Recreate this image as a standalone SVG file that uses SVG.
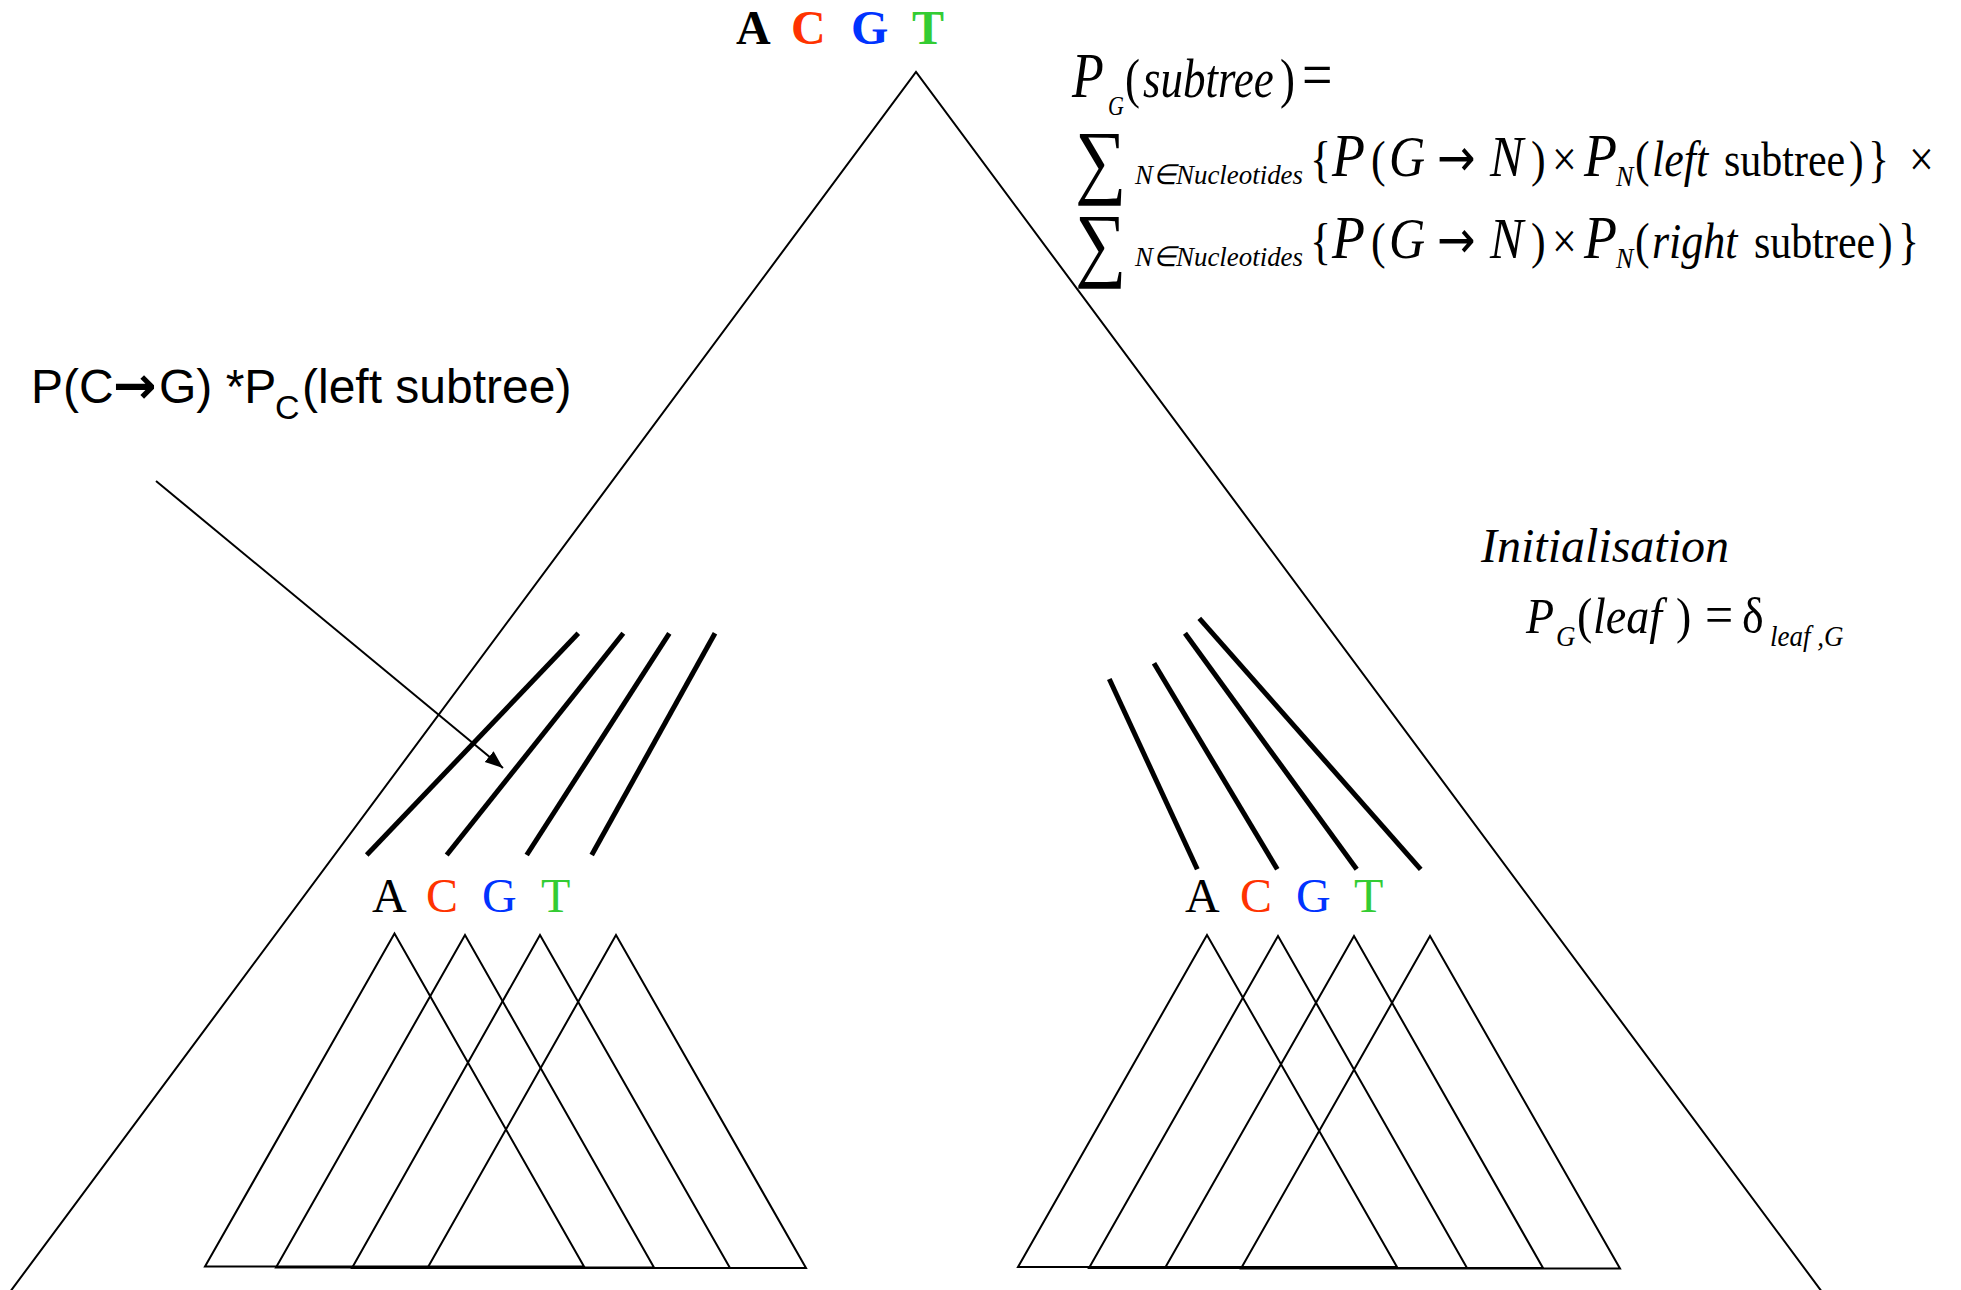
<svg xmlns="http://www.w3.org/2000/svg" width="1961" height="1290" viewBox="0 0 1961 1290">
  <style>
    .thin { fill: none; stroke: #000; stroke-width: 2; stroke-linejoin: miter; }
    .thick { fill: none; stroke: #000; stroke-width: 5; stroke-linecap: butt; }
    .serif { font-family: "Liberation Serif", "Times New Roman", serif; }
    .sans { font-family: "Liberation Sans", Arial, sans-serif; }
    .nt { font-family: "Liberation Serif", "Times New Roman", serif; font-size: 48px; }
    .a { fill: #000; }
    .c { fill: #ff3300; }
    .g { fill: #0033ff; }
    .t { fill: #33cc33; }
    .it { font-style: italic; }
    .math { font-family: "Liberation Serif", "Times New Roman", serif; font-size: 44px; fill: #000; }
    .cap { font-size: 50px; }
    .bigp { font-size: 54px; }
    .up { font-size: 42px; }
    .sub { font-size: 26px; }
    .arr { font-family: "DejaVu Sans", sans-serif; font-size: 46px; }
    .sum { font-size: 72px; font-style: normal; }
  </style>
  <defs>
    <marker id="arrowhead" markerUnits="userSpaceOnUse" markerWidth="20" markerHeight="16" refX="18" refY="7" orient="auto">
      <path d="M0,0 L18,7 L0,14 z" fill="#000"/>
    </marker>
  </defs>
  <rect width="1961" height="1290" fill="#fff"/>

  <g id="root-tree">
    <polyline class="thin" points="4,1300 916,72 1828,1300"/>
    <text class="nt" font-weight="bold" y="44"><tspan class="a" x="736">A</tspan><tspan class="c" x="791">C</tspan><tspan class="g" x="851">G</tspan><tspan class="t" x="912">T</tspan></text>
  </g>

  <g id="left-subtree">
    <text class="nt" y="912"><tspan class="a" x="372">A</tspan><tspan class="c" x="426">C</tspan><tspan class="g" x="482">G</tspan><tspan class="t" x="541">T</tspan></text>
    <polygon class="thin" points="394.5,933.5 205,1266.5 584,1266.5"/>
    <polygon class="thin" points="465,935 276,1267.5 654,1267.5"/>
    <polygon class="thin" points="540,935 352,1268 730,1268"/>
    <polygon class="thin" points="616,935 427.5,1268 806,1268"/>
  </g>

  <g id="right-subtree">
    <text class="nt" y="912"><tspan class="a" x="1185">A</tspan><tspan class="c" x="1240">C</tspan><tspan class="g" x="1296">G</tspan><tspan class="t" x="1354">T</tspan></text>
    <polygon class="thin" points="1207,935 1018,1267 1397,1267"/>
    <polygon class="thin" points="1278,936 1089,1268 1467,1268"/>
    <polygon class="thin" points="1354,936 1165,1268 1543,1268"/>
    <polygon class="thin" points="1430,936 1241,1268.5 1620,1268.5"/>
  </g>

  <g id="connectors">
    <line class="thick" x1="578.3" y1="633.3" x2="366.7" y2="855" stroke-width="6"/>
    <line class="thick" x1="623.3" y1="633.3" x2="446.7" y2="855"/>
    <line class="thick" x1="669.3" y1="633.3" x2="526.7" y2="855"/>
    <line class="thick" x1="715" y1="633.3" x2="591.7" y2="855"/>
    <line class="thick" x1="1109.3" y1="679" x2="1197.3" y2="869.3"/>
    <line class="thick" x1="1154" y1="663.3" x2="1277.3" y2="869.3"/>
    <line class="thick" x1="1185" y1="633.3" x2="1356.7" y2="869.3"/>
    <line class="thick" x1="1199.3" y1="618.3" x2="1420.7" y2="869.3" stroke-width="6"/>
    <line x1="156" y1="481" x2="503" y2="768" stroke="#000" stroke-width="2" marker-end="url(#arrowhead)"/>
  </g>

  <g id="label-left">
    <text class="sans" font-size="48" y="403" fill="#000"><tspan x="31">P(C</tspan><tspan x="113" font-family="'DejaVu Sans', sans-serif" font-weight="bold" font-size="52">→</tspan><tspan x="159">G) *P</tspan><tspan x="275" y="419" font-size="34">C</tspan><tspan x="302" y="403">(left subtree)</tspan></text>
  </g>

  <g id="formula-recursion" class="math">
    <text transform="translate(0,97) scale(1,1.2)" font-size="45"><tspan class="it" x="1072" y="0" font-size="52">P</tspan><tspan class="it" font-size="22" x="1108" y="15">G</tspan><tspan x="1125" y="0">(</tspan><tspan class="it" x="1143">subtree</tspan><tspan x="1280">)</tspan><tspan x="1302" font-size="54">=</tspan></text>
    <text class="sum" transform="translate(1075,188) scale(1,1.15)">∑</text>
    <text class="it" font-size="28" x="1135" y="184" textLength="168" lengthAdjust="spacingAndGlyphs">N∈Nucleotides</text>
    <text transform="translate(0,176) scale(1,1.15)"><tspan x="1310" y="0">{</tspan><tspan class="it bigp" x="1332">P</tspan><tspan x="1371">(</tspan><tspan class="it cap" x="1389">G</tspan><tspan class="arr" x="1437">→</tspan><tspan class="it cap" x="1490">N</tspan><tspan x="1531">)</tspan><tspan x="1552">×</tspan><tspan class="it bigp" x="1584">P</tspan><tspan class="it sub" x="1616" y="9">N</tspan><tspan x="1635" y="0">(</tspan><tspan class="it" x="1652">left</tspan><tspan class="up" x="1724">subtree</tspan><tspan x="1849">)</tspan><tspan x="1868">}</tspan><tspan x="1909">×</tspan></text>
    <text class="sum" transform="translate(1075,271) scale(1,1.15)">∑</text>
    <text class="it" font-size="28" x="1135" y="266" textLength="168" lengthAdjust="spacingAndGlyphs">N∈Nucleotides</text>
    <text transform="translate(0,258) scale(1,1.15)"><tspan x="1310" y="0">{</tspan><tspan class="it bigp" x="1332">P</tspan><tspan x="1371">(</tspan><tspan class="it cap" x="1389">G</tspan><tspan class="arr" x="1437">→</tspan><tspan class="it cap" x="1490">N</tspan><tspan x="1531">)</tspan><tspan x="1552">×</tspan><tspan class="it bigp" x="1584">P</tspan><tspan class="it sub" x="1616" y="9">N</tspan><tspan x="1635" y="0">(</tspan><tspan class="it" x="1652">right</tspan><tspan class="up" x="1754">subtree</tspan><tspan x="1878">)</tspan><tspan x="1898">}</tspan></text>
  </g>

  <g id="formula-init" class="serif">
    <text class="it" x="1481" y="562" font-size="48">Initialisation</text>
    <text font-size="46" transform="translate(0,633) scale(1,1.1)"><tspan class="it" x="1526" y="0">P</tspan><tspan class="it" font-size="27" x="1556" y="12">G</tspan><tspan x="1577" y="0">(</tspan><tspan class="it" x="1593">leaf</tspan><tspan x="1676">)</tspan><tspan x="1705" font-size="50">=</tspan><tspan x="1742">δ</tspan><tspan class="it" font-size="27" x="1770" y="12">leaf ,G</tspan></text>
  </g>
</svg>
